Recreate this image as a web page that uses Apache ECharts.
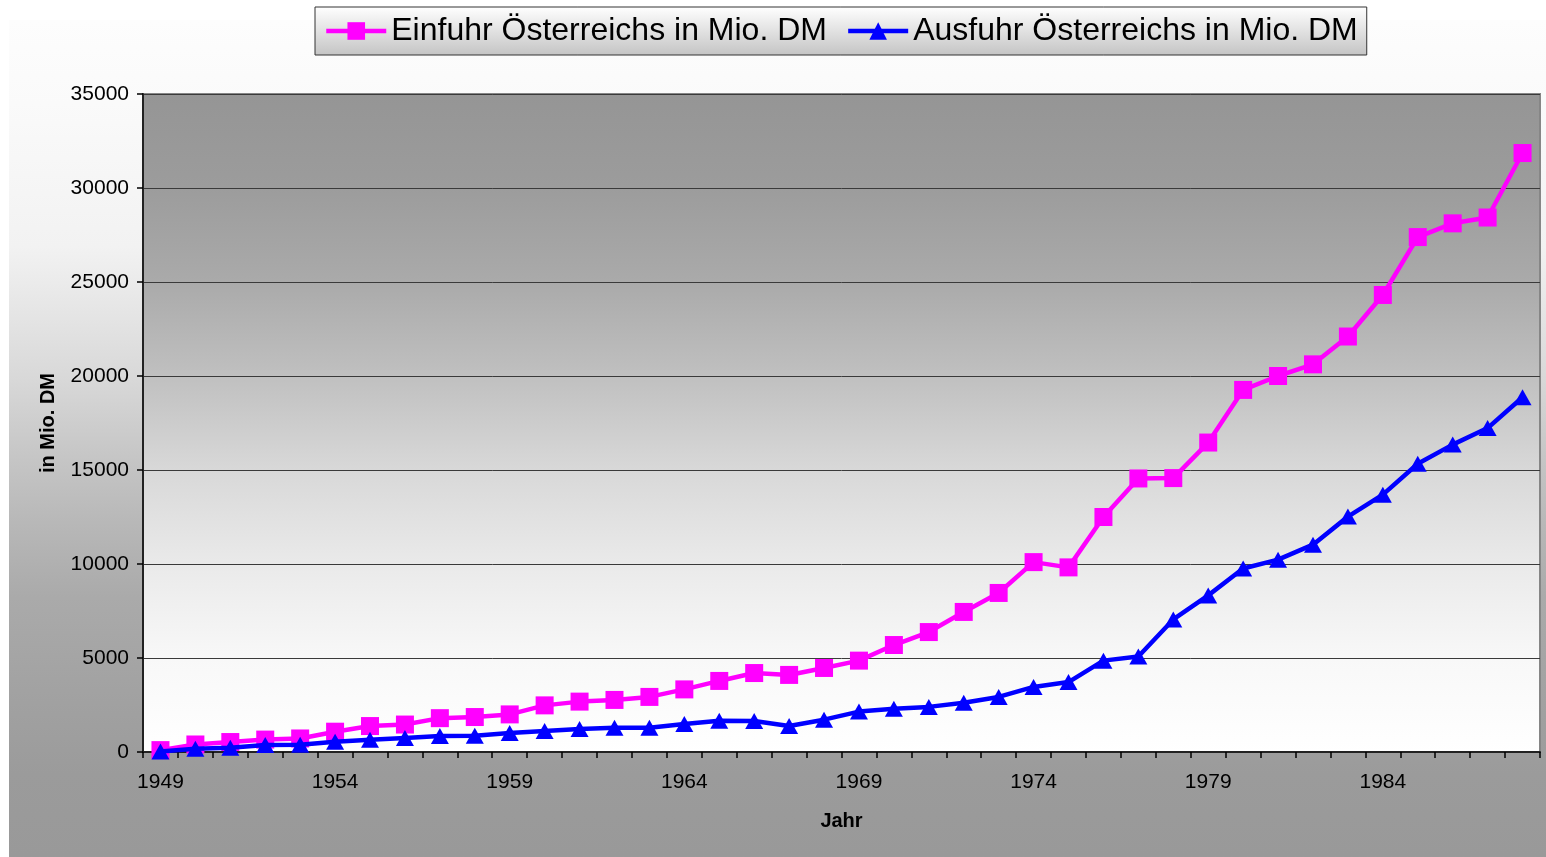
<!DOCTYPE html>
<html>
<head>
<meta charset="utf-8">
<script src="https://cdn.jsdelivr.net/npm/echarts@6/dist/echarts.min.js"></script>
<style>
html,body{margin:0;padding:0;background:#ffffff;}
#chart{width:1546px;height:857px;}
</style>
</head>
<body>
<div id="chart"></div>
<script>
const years = ['1949','1950','1951','1952','1953','1954','1955','1956','1957','1958',
  '1959','1960','1961','1962','1963','1964','1965','1966','1967','1968',
  '1969','1970','1971','1972','1973','1974','1975','1976','1977','1978',
  '1979','1980','1981','1982','1983','1984','1985','1986','1987','1988'];

const einfuhr = [100, 400, 530, 660, 720, 1080, 1380, 1460, 1800, 1860,
  2000, 2480, 2680, 2770, 2930, 3330, 3780, 4200, 4100, 4470,
  4860, 5690, 6380, 7450, 8460, 10100, 9820, 12500, 14550, 14570,
  16460, 19260, 20000, 20620, 22100, 24310, 27390, 28120, 28430, 31860];

const ausfuhr = [30, 170, 220, 370, 380, 540, 650, 750, 850, 870,
  1010, 1120, 1220, 1290, 1290, 1490, 1660, 1650, 1380, 1720,
  2150, 2300, 2400, 2620, 2930, 3460, 3720, 4860, 5080, 7050,
  8330, 9760, 10230, 11030, 12520, 13690, 15330, 16350, 17230, 18870];

const seriesNames = ['Einfuhr Österreichs in Mio. DM', 'Ausfuhr Österreichs in Mio. DM'];
const yAxisName = 'in Mio. DM';
const xAxisName = 'Jahr';

const FONT = '"Liberation Sans", Arial, sans-serif';
const chart = echarts.init(document.getElementById('chart'), null, {renderer: 'canvas'});

const lg = (stops) => new echarts.graphic.LinearGradient(0, 0, 0, 1,
  stops.map(s => ({offset: s[0], color: s[1]})));

chart.setOption({
  animation: false,
  backgroundColor: 'transparent',
  graphic: [{
    type: 'rect',
    z: -100,
    silent: true,
    shape: {x: 9, y: 20, width: 1537, height: 837},
    style: {
      fill: lg([[0, '#fdfdfd'], [0.1, '#fafafa'], [0.27, '#f2f2f2'], [0.35, '#e5e5e5'],
        [0.43, '#d8d8d8'], [0.51, '#c8c8c8'], [0.6, '#b8b8b8'], [0.69, '#aaaaaa'],
        [0.9, '#9b9b9b'], [1, '#999999']])
    }
  }],
  legend: {
    left: 315,
    top: 7,
    padding: [8, 9, 8, 9],
    itemGap: 19,
    itemWidth: 60,
    itemHeight: 22,
    borderColor: '#333333',
    borderWidth: 1,
    backgroundColor: lg([[0, '#ffffff'], [1, '#c4c4c4']]),
    lineStyle: {width: 4.5},
    textStyle: {fontFamily: FONT, fontSize: 32, color: '#000000'},
    data: seriesNames
  },
  grid: {
    left: 143, right: 6, top: 94, bottom: 105,
    show: true,
    borderColor: '#868686',
    borderWidth: 2,
    backgroundColor: lg([[0, '#959595'], [0.143, '#9c9c9c'], [0.286, '#aaaaaa'],
      [0.43, '#c0c0c0'], [0.57, '#d8d8d8'], [0.716, '#eaeaea'], [0.857, '#f8f8f8'], [1, '#ffffff']])
  },
  xAxis: {
    type: 'category',
    data: years,
    boundaryGap: true,
    name: xAxisName,
    nameLocation: 'middle',
    nameGap: 59,
    nameTextStyle: {fontFamily: FONT, fontSize: 20, fontWeight: 'bold', color: '#000'},
    axisLine: {lineStyle: {color: '#222222', width: 2}},
    axisTick: {show: true, interval: 0, length: 6, lineStyle: {color: '#000', width: 1.5}},
    axisLabel: {interval: 4, fontFamily: FONT, fontSize: 21, color: '#000', margin: 20},
    splitLine: {show: false}
  },
  yAxis: {
    type: 'value',
    min: 0, max: 35000, interval: 5000,
    name: yAxisName,
    nameLocation: 'middle',
    nameGap: 85,
    nameRotate: 90,
    nameTextStyle: {fontFamily: FONT, fontSize: 20, fontWeight: 'bold', color: '#000'},
    axisLine: {show: true, lineStyle: {color: '#222222', width: 2}},
    axisTick: {show: true, length: 6, lineStyle: {color: '#000', width: 1.5}},
    axisLabel: {fontFamily: FONT, fontSize: 21, color: '#000', margin: 14,
      formatter: v => String(v)},
    splitLine: {show: true, lineStyle: {color: '#3a3a3a', width: 1}}
  },
  series: [{
    name: seriesNames[0],
    type: 'line',
    data: einfuhr,
    symbol: 'rect',
    symbolSize: 18,
    lineStyle: {color: '#ff00ff', width: 4.5},
    itemStyle: {color: '#ff00ff'},
    z: 3
  }, {
    name: seriesNames[1],
    type: 'line',
    data: ausfuhr,
    symbol: 'triangle',
    symbolSize: [18, 16],
    lineStyle: {color: '#0000ff', width: 4.5},
    itemStyle: {color: '#0000ff'},
    z: 4
  }]
});
</script>
</body>
</html>
